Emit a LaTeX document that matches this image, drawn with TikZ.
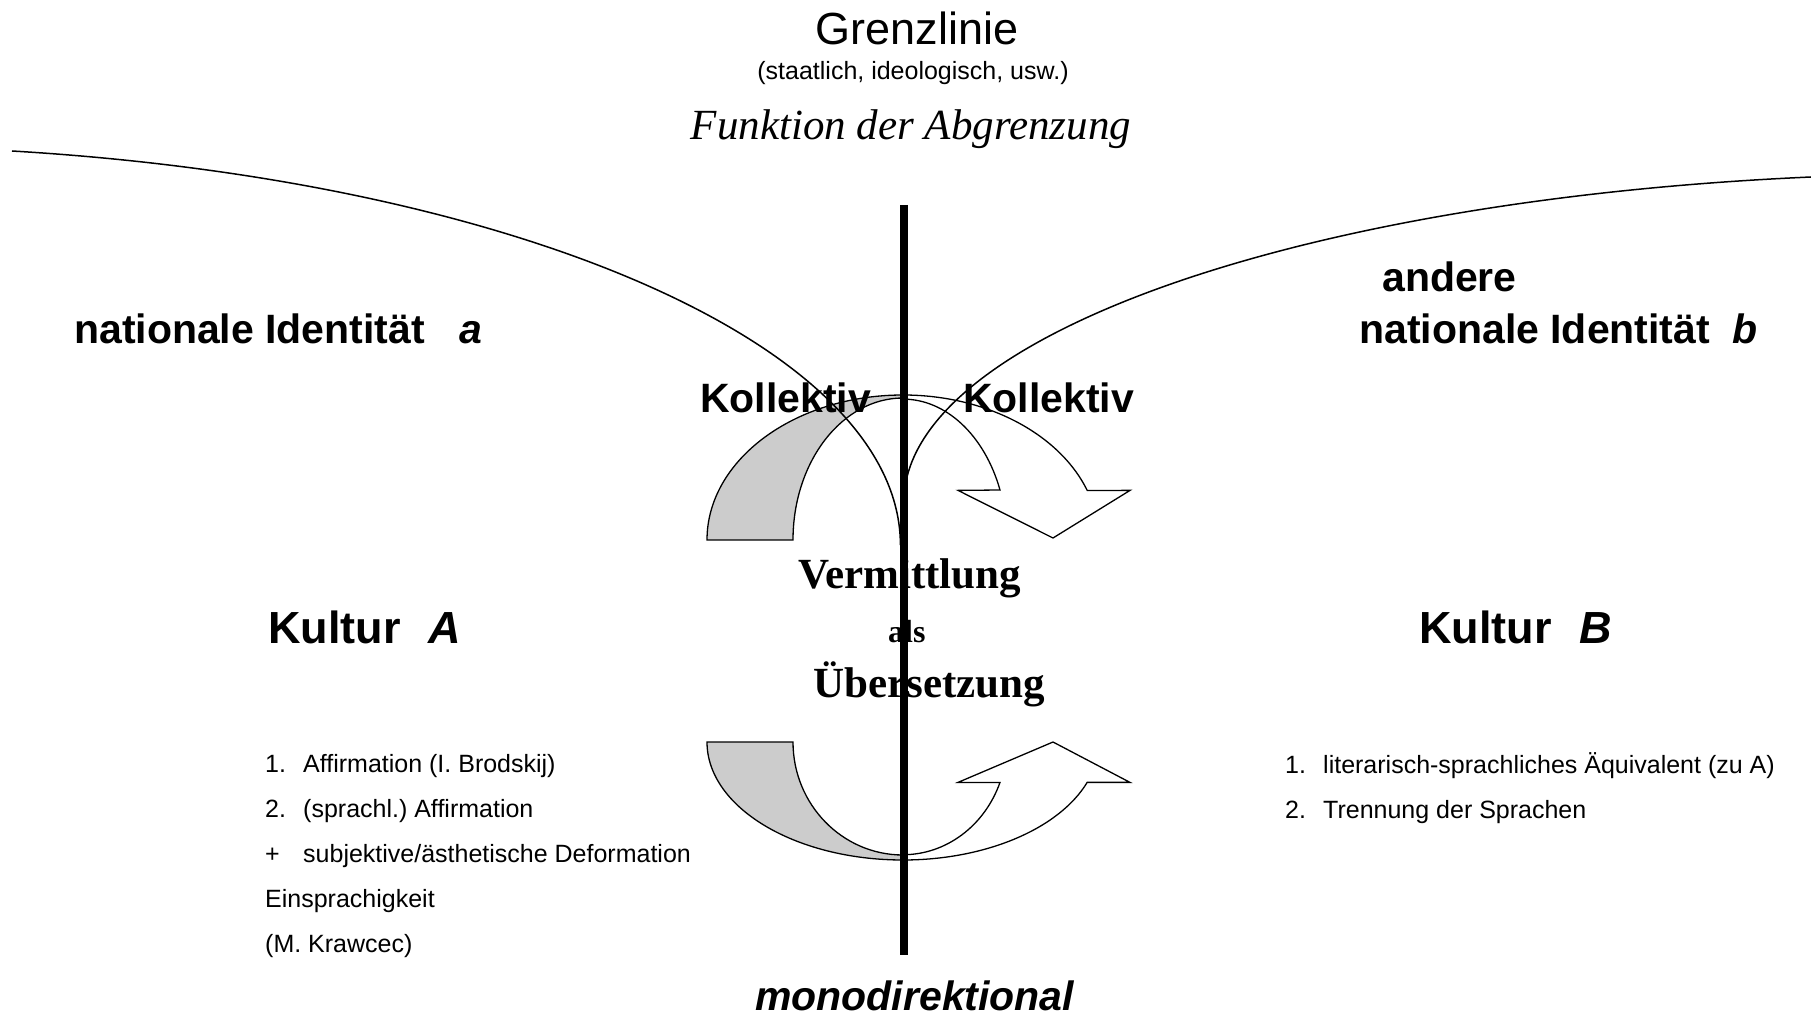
\documentclass[tikz,border=0pt]{standalone}
\usepackage{fontspec}
\setmainfont{Liberation Serif}
\setsansfont{Liberation Sans}
\frenchspacing
\begin{document}
\begin{tikzpicture}[x=1pt, y=1pt,
  bigcurve/.style={line width=1.5pt},
  grayband/.style={draw, line width=1.3pt, fill=black!20},
  whiteband/.style={draw, line width=1.3pt, fill=white},
  grenzline/.style={line width=8pt},
  titlelabel/.style={font=\sffamily\fontsize{45}{54}\selectfont, anchor=base, inner sep=0pt},
  sublabel/.style={font=\sffamily\fontsize{25}{30}\selectfont, anchor=base, inner sep=0pt},
  funklabel/.style={font=\rmfamily\itshape\fontsize{43}{52}\selectfont, anchor=base, inner sep=0pt},
  identlabel/.style={font=\sffamily\bfseries\fontsize{41}{49}\selectfont, anchor=base west, inner sep=0pt},
  kulturlabel/.style={font=\sffamily\bfseries\fontsize{45}{54}\selectfont, anchor=base west, inner sep=0pt},
  vermlabel/.style={font=\rmfamily\bfseries\fontsize{43}{52}\selectfont, anchor=base west, inner sep=0pt},
  listlabel/.style={font=\sffamily\fontsize{25}{30}\selectfont, anchor=base west, inner sep=0pt},
]
  \useasboundingbox (0,0) rectangle (1811,1021);

  % Arrows (top)
  \draw[grayband] (707,481) arc[start angle=180, end angle=90, x radius=196, y radius=145]
    -- (903,623) arc[start angle=90, end angle=180, x radius=110, y radius=142] -- cycle;
  \draw[whiteband] (903,626) arc[start angle=90, end angle=20, x radius=196, y radius=145]
    -- (1130,530.6) -- (1053,483) -- (958,530.6) -- (1000,531)
    arc[start angle=21.1, end angle=90, x radius=104, y radius=142] -- cycle;

  % Arrows (bottom)
  \draw[grayband] (707,279) arc[start angle=180, end angle=270, x radius=196, y radius=118]
    -- (903,166) arc[start angle=270, end angle=180, x radius=110, y radius=113] -- cycle;
  \draw[whiteband] (903,161) arc[start angle=270, end angle=340, x radius=196, y radius=118]
    -- (1130,238.6) -- (1053,279) -- (958,238.6) -- (1000,238.6)
    arc[start angle=-21.1, end angle=-90, x radius=104, y radius=113] -- cycle;

  % Curves
  \draw[bigcurve] (12,870) arc[start angle=81.1, end angle=0, x radius=1051, y radius=399];
  \draw[bigcurve] (1811,844) arc[start angle=98.1, end angle=180, x radius=1056, y radius=329];

  % Title
  \node[titlelabel] (grenz) at (917,976) {Grenzlinie};
  \node[sublabel] (staat) at (913,941) {(staatlich, ideologisch, usw.)};
  \node[funklabel] (funk) at (911,881) {Funktion der Abgrenzung};

  % Identities
  \node[identlabel] (identa) at (74,677) {nationale Identität\hspace{34pt}\textit{a}};
  \node[identlabel] (andere) at (1382,729) {andere};
  \node[identlabel] (identb) at (1359,677) {nationale Identität\hspace{22pt}\textit{b}};
  \node[identlabel] (kolla) at (700,608) {Kollektiv};
  \node[identlabel] (kollb) at (963,608) {Kollektiv};

  % Cultures
  \node[kulturlabel] (kultura) at (268,378) {Kultur\hspace{28pt}\textit{A}};
  \node[kulturlabel] (kulturb) at (1419,378) {Kultur\hspace{28pt}\textit{B}};

  % Middle
  \node[vermlabel] (verm) at (798,432) {Vermittlung};
  \node[vermlabel, font=\rmfamily\bfseries\fontsize{32}{38}\selectfont] (als) at (888,379) {als};
  \node[vermlabel] (ueber) at (813,324) {Übersetzung};

  % Lists
  \node[listlabel] (lista1) at (265,249) {\makebox[38pt][l]{1.}Affirmation (I. Brodskij)};
  \node[listlabel] (lista2) at (265,204) {\makebox[38pt][l]{2.}(sprachl.) Affirmation};
  \node[listlabel] (lista3) at (265,159) {\makebox[38pt][l]{+}subjektive/ästhetische Deformation};
  \node[listlabel] (lista4) at (265,114) {Einsprachigkeit};
  \node[listlabel] (lista5) at (265,69) {(M. Krawcec)};
  \node[listlabel] (listb1) at (1285,248) {\makebox[38pt][l]{1.}literarisch-sprachliches Äquivalent (zu A)};
  \node[listlabel] (listb2) at (1285,203) {\makebox[38pt][l]{2.}Trennung der Sprachen};

  % Bottom
  \node[identlabel, font=\sffamily\bfseries\itshape\fontsize{41}{49}\selectfont] (mono) at (755,11) {monodirektional};

  % Border line
  \coordinate (grenztop) at (904,816);
  \coordinate (grenzbot) at (904,66);
  \draw[grenzline] (grenztop) -- (grenzbot);
\end{tikzpicture}
\end{document}
